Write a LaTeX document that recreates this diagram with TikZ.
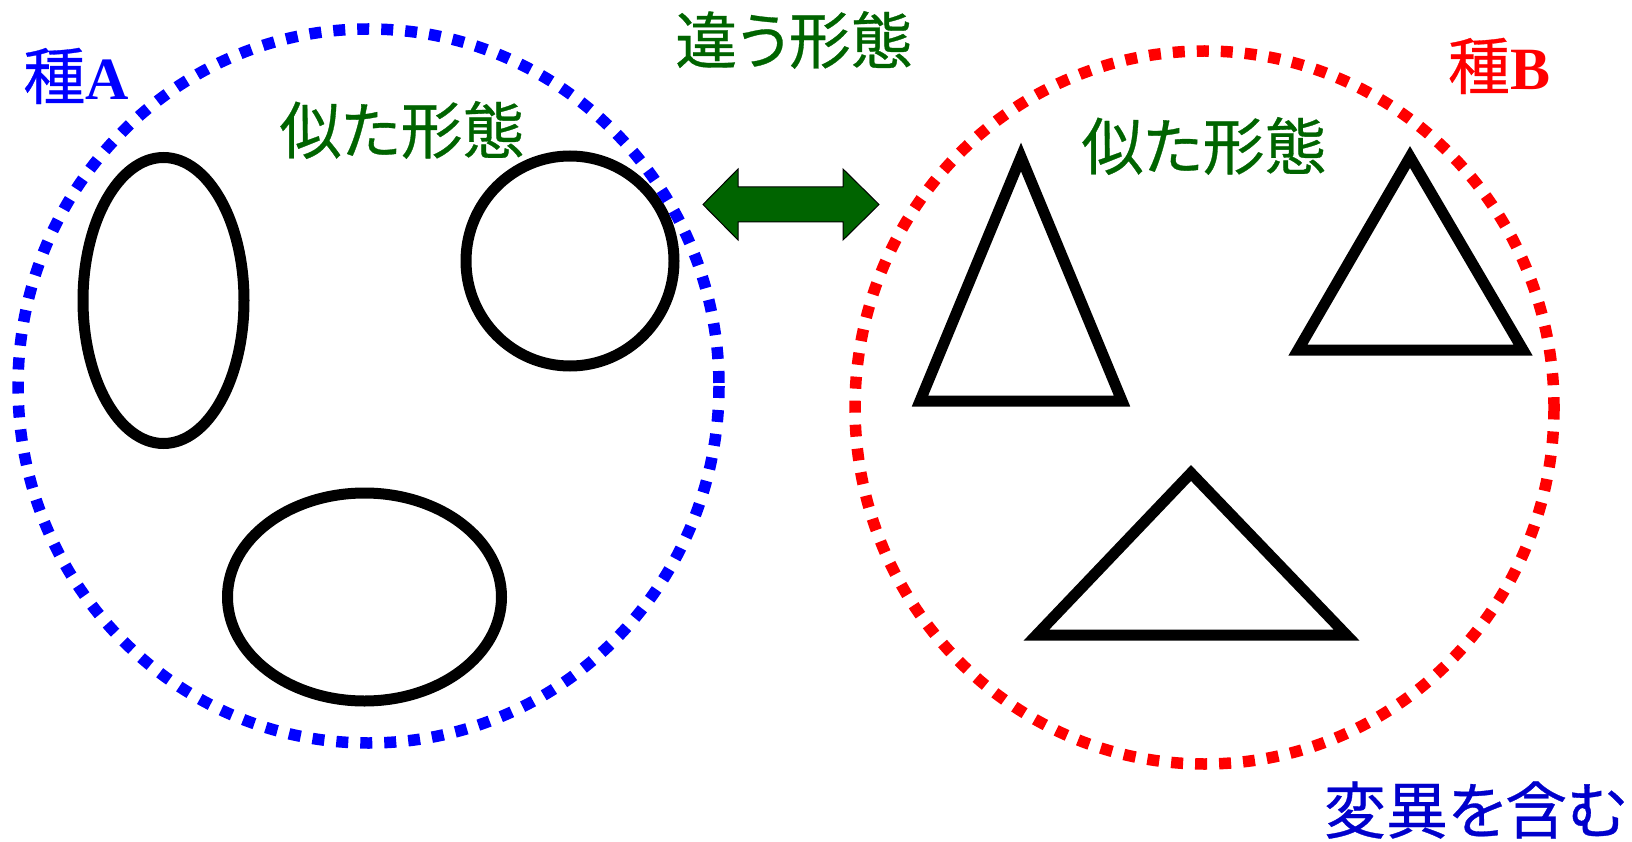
\documentclass[tikz,border=0pt]{standalone}
\usepackage{fontspec}
\setmainfont{Liberation Serif}
\newfontfamily\jp[RawFeature=+palt, FakeBold=0.5]{Noto Sans CJK JP}
\definecolor{dgreen}{RGB}{0,100,0}
\definecolor{ablue}{RGB}{0,0,255}
\definecolor{vblue}{RGB}{0,0,204}
\definecolor{bred}{RGB}{255,0,0}
\tikzset{
  lab/.style={inner sep=0pt, font=\jp\fontsize{62}{62}\selectfont},
  dotring/.style={line width=11.5pt, dash pattern=on 12pt off 12pt},
  form/.style={draw=black, line width=11pt, line join=miter},
  bigarrow/.style={fill=dgreen, draw=black, line width=1pt, line join=miter}
}
\begin{document}
\begin{tikzpicture}[x=1pt,y=-1pt]
\useasboundingbox[fill=white] (0,0) rectangle (1632,842);
% centres
\coordinate (cA) at (368.5,386);
\coordinate (cB) at (1204.5,407.5);
\coordinate (e1) at (163.5,300.5);
\coordinate (e2) at (570,261);
\coordinate (e3) at (364.5,597);
% species A shapes
\draw[form] (e1) ellipse [x radius=80.5, y radius=143];
\draw[form] (e2) ellipse [x radius=104, y radius=105];
\draw[form] (e3) ellipse [x radius=137, y radius=104];
% species B shapes
\coordinate (t1a) at (1021,157);
\coordinate (t1b) at (920,401);
\coordinate (t1c) at (1122,401);
\coordinate (t2a) at (1410,157);
\coordinate (t2b) at (1298,350);
\coordinate (t2c) at (1523,350);
\coordinate (t3a) at (1191,473);
\coordinate (t3b) at (1036.5,635);
\coordinate (t3c) at (1346.5,635);
\draw[form] (t1a) -- (t1b) -- (t1c) -- cycle;
\draw[form] (t2a) -- (t2b) -- (t2c) -- cycle;
\draw[form] (t3a) -- (t3b) -- (t3c) -- cycle;
% species rings
\draw[dotring, draw=ablue] (cA) ellipse [x radius=350.5, y radius=357];
\draw[dotring, draw=bred] (cB) ellipse [x radius=349.5, y radius=356.5];
% double arrow
\coordinate (al) at (703,204.5);
\coordinate (ar) at (879,204.5);
\draw[bigarrow] (al) -- (738,169) -- (738,187) -- (843,187) -- (843,169) -- (ar)
  -- (843,240) -- (843,222) -- (738,222) -- (738,240) -- cycle;
% labels
\node[lab, text=ablue] (labA) at (76,76) {種\fontsize{60}{60}\selectfont\rmfamily\bfseries A};
\node[lab, text=bred] (labB) at (1499,66) {種\fontsize{60}{60}\selectfont\rmfamily\bfseries B};
\node[lab, text=dgreen] (diff) at (794,40) {違う形態};
\node[lab, text=dgreen] (simA) at (402,130) {似た形態};
\node[lab, text=dgreen] (simB) at (1204,146) {似た形態};
\node[lab, text=vblue] (var) at (1475,810) {変異を含む};
\end{tikzpicture}
\end{document}
